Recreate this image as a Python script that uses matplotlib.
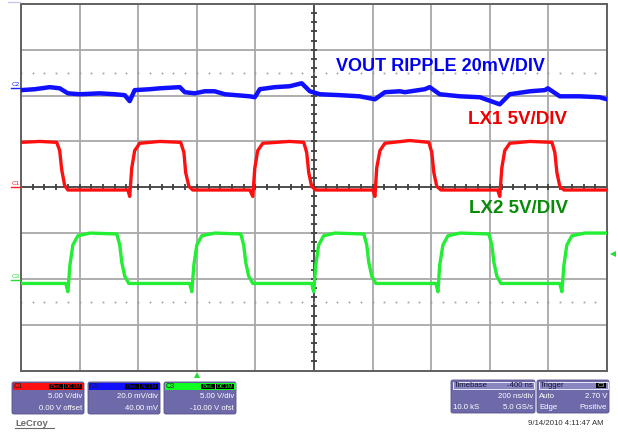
import numpy as np
import matplotlib
matplotlib.use("Agg")
import matplotlib.pyplot as plt
from matplotlib.patches import FancyBboxPatch, Rectangle

plt.rcParams['font.family'] = ['Liberation Sans', 'DejaVu Sans']

# channel settings (volts per division, offset)
c1_scale, c1_offset = 5.0, 0.0       # LX1
c2_scale, c2_offset = 20.0, 40.0     # VOUT ripple, mV
c3_scale, c3_offset = 5.0, -10.0     # LX2

# traces: time in ns, values in V (mV for C2)
blue_t = [-600, -553, -502, -468, -440, -399, -331, -280, -246, -229, -212, -160, -126, -58, -41,
          -7, 27, 61, 96, 181, 198, 215, 266, 317, 358, 386, 420, 488, 556, 608, 642, 693, 710,
          778, 795, 829, 898, 966, 1034, 1068, 1137, 1188, 1198, 1239, 1307, 1375, 1400]
blue_mv = [2.4, 2.8, 3.7, 3.2, 1.0, 0.6, 1.0, 0.6, 0.2, -2.4, 2.4, 2.8, 3.2, 3.7, 1.5,
           1.0, 1.9, 1.9, 0.6, -0.3, -0.7, 2.8, 3.7, 4.1, 5.4, 1.9, 0.6, 0.2, -0.3, -1.6, 1.5, 1.9, 1.5,
           2.8, 3.7, 0.6, -0.3, -0.7, -3.8, 0.6, 1.9, 2.4, 3.2, -0.3, -0.3, -0.7, -1.6]

red_t = [-600, -536, -478, -468, -461, -451, -440, -331, -235, -229, -222, -212, -195, -126,
         -55, -44, -38, -27, -14, 181, 191, 198, 208, 225, 317,
         365, 375, 382, 392, 406, 601, 608, 614, 625, 642, 727,
         792, 802, 809, 819, 833, 1027, 1034, 1041, 1051, 1068, 1137,
         1212, 1222, 1229, 1239, 1253, 1400]
red_v = [4.9, 5.0, 4.9, 4.0, 1.9, 0.2, -0.3, -0.3, -0.3, -1.0, 2.1, 4.0, 4.8, 5.0,
         4.9, 3.8, 1.6, 0.1, -0.3, -0.3, -1.0, 2.1, 4.0, 4.8, 5.0,
         4.9, 3.8, 1.6, 0.1, -0.3, -0.3, -1.0, 2.1, 4.0, 4.8, 5.1,
         4.9, 3.8, 1.6, 0.1, -0.3, -0.3, -1.0, 2.1, 4.0, 4.8, 5.0,
         4.9, 3.8, 1.6, 0.1, -0.3, -0.3]

green_t = [-600, -447, -440, -433, -423, -406, -365, -273, -263, -256, -246, -232,
           -24, -17, -10, 0, 17, 61, 150, 160, 167, 177, 191,
           392, 399, 406, 416, 433, 471, 570, 580, 587, 597, 611,
           816, 823, 829, 840, 857, 898, 997, 1007, 1014, 1024, 1038,
           1239, 1246, 1253, 1263, 1280, 1324, 1400]
green_v = [-0.5, -0.5, -1.4, 1.5, 3.7, 4.7, 5.0, 4.9, 3.7, 1.8, 0.3, -0.5,
           -0.5, -1.4, 1.5, 3.7, 4.7, 5.0, 4.9, 3.7, 1.8, 0.3, -0.5,
           -0.5, -1.4, 1.5, 3.7, 4.7, 5.0, 4.9, 3.7, 1.8, 0.3, -0.5,
           -0.5, -1.4, 1.5, 3.7, 4.7, 5.0, 4.9, 3.7, 1.8, 0.3, -0.5,
           -0.5, -1.4, 1.5, 3.7, 4.7, 5.0, 5.0]

t_start, ns_div, n_xdiv, n_ydiv = -600, 200, 10, 8

W, H = 618, 434
fig = plt.figure(figsize=(W / 100, H / 100), dpi=100)
fig.patch.set_facecolor("white")

# scope screen
ax = fig.add_axes([21 / W, 1 - 370.5 / H, 586 / W, 366.5 / H])
t_end = t_start + ns_div * n_xdiv
ax.set_xlim(t_start, t_end)
ax.set_ylim(-n_ydiv / 2, n_ydiv / 2)
ax.set_xticks([])
ax.set_yticks([])
for s in ax.spines.values():
    s.set_color("#606060")
    s.set_linewidth(1.4)

grid_c = "#a8a8a8"
for k in range(1, n_xdiv):
    x = t_start + k * ns_div
    ax.axvline(x, color="#404040" if k == n_xdiv // 2 else grid_c, lw=1.3, zorder=1)
for k in range(1, n_ydiv):
    y = -n_ydiv / 2 + k
    ax.axhline(y, color="#404040" if k == n_ydiv // 2 else grid_c, lw=1.3, zorder=1)

# minor ticks on the centre cross and dotted rows
xc = t_start + ns_div * n_xdiv / 2
minor_x = np.arange(t_start, t_end + 1, ns_div / 5)
minor_y = np.arange(-n_ydiv / 2, n_ydiv / 2 + 0.01, 0.2)
ax.plot(minor_x, np.zeros_like(minor_x), ls="none", marker="|", ms=4.5, mew=1.3, color="#404040", zorder=2)
ax.plot(np.full_like(minor_y, xc), minor_y, ls="none", marker="_", ms=4.5, mew=1.3, color="#404040", zorder=2)
for yd in (2.5, -2.5):
    ax.plot(minor_x, np.full_like(minor_x, yd), ls="none", marker="s", ms=1.2, color="#9a9a9a", mew=0, zorder=2)

# traces
def to_div(v, scale, offset):
    return (np.asarray(v, dtype=float) + offset) / scale

ax.plot(blue_t, to_div(blue_mv, c2_scale, c2_offset), color="#1010ff", lw=3.2, zorder=3)
ax.plot(red_t, to_div(red_v, c1_scale, c1_offset), color="#ff1010", lw=2.4, zorder=3)
ax.plot(green_t, to_div(green_v, c3_scale, c3_offset), color="#22ee33", lw=2.4, zorder=3)

ax.text(0.537, 0.829, "VOUT RIPPLE 20mV/DIV", transform=ax.transAxes, color="#0000ee",
        fontsize=13, fontweight="bold", va="center", ha="left", zorder=5)
ax.text(0.931, 0.686, "LX1 5V/DIV", transform=ax.transAxes, color="#ee0000",
        fontsize=13.5, fontweight="bold", va="center", ha="right", zorder=5)
ax.text(0.934, 0.443, "LX2 5V/DIV", transform=ax.transAxes, color="#0a8a0a",
        fontsize=13.5, fontweight="bold", va="center", ha="right", zorder=5)

# overlay in pixel coordinates for markers and info boxes
ov = fig.add_axes([0, 0, 1, 1], zorder=10)
ov.set_xlim(0, W)
ov.set_ylim(H, 0)
ov.axis("off")

for name, col, py in (("C2", "#2020ff", 88), ("C1", "#ff2020", 187), ("C3", "#20dd30", 280)):
    ov.text(11.5, py - 1.2, name, color=col, fontsize=4.6, ha="left", va="bottom")
    ov.plot([11, 20], [py, py], color=col, lw=1)

# trigger markers
ov.plot([613], [254], marker="<", ms=4, color="#22dd33", mew=0)
ov.plot([197], [374.5], marker="^", ms=4.5, color="#22dd33", mew=0)
ov.plot([8, 20], [2, 2], color="#c8c8e8", lw=1)

body_c = "#6e6aaa"

def box(x0, y0, x1, y1):
    ov.add_patch(FancyBboxPatch((x0, y0), x1 - x0, y1 - y0, boxstyle="round,pad=0,rounding_size=2",
                                fc=body_c, ec="#55508a", lw=0.6))

chan_boxes = [
    (12, "C1", "#ff1010", "DC1M", "5.00 V/div", "0.00 V offset"),
    (88, "C2", "#1010ff", "AC1M", "20.0 mV/div", "40.00 mV"),
    (164, "C3", "#10ff20", "DC1M", "5.00 V/div", "-10.00 V ofst"),
]
for x0, name, col, coup, l1, l2 in chan_boxes:
    box(x0, 382, x0 + 72, 414)
    ov.add_patch(Rectangle((x0 + 0.5, 382.5), 71, 7, fc=col, ec="none"))
    ov.text(x0 + 2, 386.3, name, fontsize=5.2, color="#202020", va="center", ha="left")
    ov.add_patch(Rectangle((x0 + 37, 383.5), 14, 5.5, fc="black", ec="none"))
    ov.add_patch(Rectangle((x0 + 52, 383.5), 18, 5.5, fc="black", ec="none"))
    ov.text(x0 + 44, 386.3, "BwL", fontsize=4.2, color=col, va="center", ha="center")
    ov.text(x0 + 61, 386.3, coup, fontsize=4.2, color=col, va="center", ha="center")
    ov.text(x0 + 70, 397, l1, fontsize=5.6, color="white", va="center", ha="right")
    ov.text(x0 + 70, 408.5, l2, fontsize=5.6, color="white", va="center", ha="right")

ov.text(15, 423, "LeCroy", fontsize=6.8, color="#6a6a6a", va="center", ha="left", fontweight="bold")
ov.plot([15, 54], [428, 428], color="#6a6a6a", lw=0.8)

# timebase box
box(451, 380, 535, 413)
ov.add_patch(Rectangle((452.5, 381.5), 81, 7.5, fc="#8a86c0", ec="#e8e8ff", lw=0.7))
ov.text(454, 385.3, "Timebase", fontsize=5.6, color="#15153a", va="center", ha="left")
ov.text(533, 385.3, "-400 ns", fontsize=5.6, color="#15153a", va="center", ha="right")
ov.text(533, 396.5, "200 ns/div", fontsize=5.6, color="white", va="center", ha="right")
ov.text(453, 407.5, "10.0 kS", fontsize=5.6, color="white", va="center", ha="left")
ov.text(533, 407.5, "5.0 GS/s", fontsize=5.6, color="white", va="center", ha="right")

# trigger box
box(537, 380, 609, 413)
ov.add_patch(Rectangle((538.5, 381.5), 69, 7.5, fc="#8a86c0", ec="#e8e8ff", lw=0.7))
ov.text(540, 385.3, "Trigger", fontsize=5.6, color="#15153a", va="center", ha="left")
ov.add_patch(Rectangle((596, 382.5), 10, 5.5, fc="black", ec="none"))
ov.text(601, 385.3, "C3", fontsize=4.2, color="#cccccc", va="center", ha="center")
ov.text(539, 396.5, "Auto", fontsize=5.6, color="white", va="center", ha="left")
ov.text(607, 396.5, "2.70 V", fontsize=5.6, color="white", va="center", ha="right")
ov.text(539, 407.5, "Edge", fontsize=5.6, color="white", va="center", ha="left")
ov.text(607, 407.5, "Positive", fontsize=5.6, color="white", va="center", ha="right")

ov.text(604, 423.5, "9/14/2010 4:11:47 AM", fontsize=5.6, color="#303030", va="center", ha="right")

fig.savefig("out.png", dpi=100, facecolor="white")
